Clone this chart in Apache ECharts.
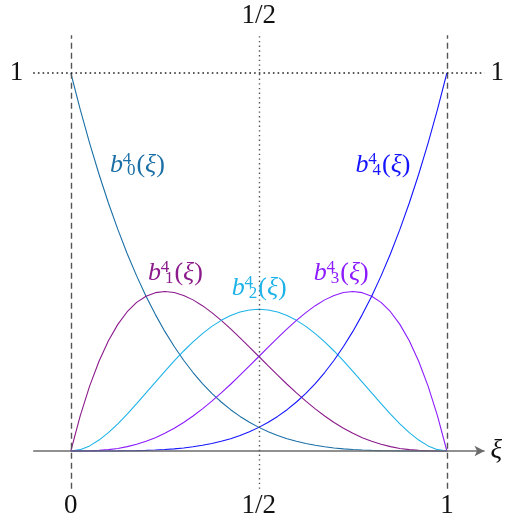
<!DOCTYPE html>
<html>
<head>
<meta charset="utf-8">
<script src="https://cdn.jsdelivr.net/npm/echarts@6/dist/echarts.min.js"></script>
<style>
  html, body { margin: 0; padding: 0; background: #fff; }
  #main { width: 507px; height: 529px; }
</style>
</head>
<body>
<div id="main"></div>
<script>
// sample points of xi
var xi = [0, 0.025, 0.05, 0.075, 0.1, 0.125, 0.15, 0.175, 0.2, 0.225, 0.25, 0.275, 0.3, 0.325, 0.35, 0.375, 0.4, 0.425, 0.45, 0.475, 0.5,
  0.525, 0.55, 0.575, 0.6, 0.625, 0.65, 0.675, 0.7, 0.725, 0.75, 0.775, 0.8, 0.825, 0.85, 0.875, 0.9, 0.925, 0.95, 0.975, 1];
// values
var b0 = [1, 0.9037, 0.8145, 0.7321, 0.6561, 0.5862, 0.5220, 0.4633, 0.4096, 0.3608, 0.3164, 0.2763, 0.2401, 0.2076, 0.1785, 0.1526, 0.1296, 0.1093, 0.0915, 0.0760, 0.0625,
  0.0509, 0.0410, 0.0326, 0.0256, 0.0198, 0.0150, 0.0112, 0.0081, 0.0057, 0.0039, 0.0026, 0.0016, 0.0009, 0.0005, 0.0002, 0.0001, 0, 0, 0, 0];
var b1 = [0, 0.0927, 0.1715, 0.2374, 0.2916, 0.3350, 0.3685, 0.3931, 0.4096, 0.4189, 0.4219, 0.4192, 0.4116, 0.3998, 0.3845, 0.3662, 0.3456, 0.3232, 0.2995, 0.2749, 0.25,
  0.2251, 0.2005, 0.1766, 0.1536, 0.1318, 0.1115, 0.0927, 0.0756, 0.0603, 0.0469, 0.0353, 0.0256, 0.0177, 0.0115, 0.0068, 0.0036, 0.0016, 0.0005, 0.0001, 0];
var b2 = [0, 0.0036, 0.0135, 0.0289, 0.0486, 0.0718, 0.0975, 0.1251, 0.1536, 0.1824, 0.2109, 0.2385, 0.2646, 0.2888, 0.3105, 0.3296, 0.3456, 0.3583, 0.3675, 0.3731, 0.375,
  0.3731, 0.3675, 0.3583, 0.3456, 0.3296, 0.3105, 0.2888, 0.2646, 0.2385, 0.2109, 0.1824, 0.1536, 0.1251, 0.0975, 0.0718, 0.0486, 0.0289, 0.0135, 0.0036, 0];
var b3 = [0, 0.0001, 0.0005, 0.0016, 0.0036, 0.0068, 0.0115, 0.0177, 0.0256, 0.0353, 0.0469, 0.0603, 0.0756, 0.0927, 0.1115, 0.1318, 0.1536, 0.1766, 0.2005, 0.2251, 0.25,
  0.2749, 0.2995, 0.3232, 0.3456, 0.3662, 0.3845, 0.3998, 0.4116, 0.4192, 0.4219, 0.4189, 0.4096, 0.3931, 0.3685, 0.3350, 0.2916, 0.2374, 0.1715, 0.0927, 0];
var b4 = [0, 0, 0, 0, 0.0001, 0.0002, 0.0005, 0.0009, 0.0016, 0.0026, 0.0039, 0.0057, 0.0081, 0.0112, 0.0150, 0.0198, 0.0256, 0.0326, 0.0410, 0.0509, 0.0625,
  0.0760, 0.0915, 0.1093, 0.1296, 0.1526, 0.1785, 0.2076, 0.2401, 0.2763, 0.3164, 0.3608, 0.4096, 0.4633, 0.5220, 0.5862, 0.6561, 0.7321, 0.8145, 0.9037, 1];
var names = ['0', '1', '2', '3', '4'];
var colors = ['#1a6fa6', '#8b1a8b', '#1eb3e8', '#8c1cff', '#1414ff'];
var tickLabels = { 0: '0', 0.5: '1/2', 1: '1' };

var serif = '"Liberation Serif", "DejaVu Serif", serif';
var chart = echarts.init(document.getElementById('main'));

function pairs(ys) {
  return xi.map(function (x, i) { return [x, ys[i]]; });
}
function fmt(v) {
  return tickLabels[v] || '';
}

// where the b_i^4 labels sit (data coords)
var labelAt = [[0.177, 0.757], [0.278, 0.471], [0.501, 0.431], [0.719, 0.471], [0.830, 0.757]];

function curve(ys, i) {
  var c = colors[i];
  return {
    type: 'line',
    data: pairs(ys),
    showSymbol: false,
    lineStyle: { color: c, width: 1.1 },
    z: 3,
    markPoint: {
      symbol: 'circle',
      symbolSize: 0,
      data: [{ coord: labelAt[i] }],
      label: {
        show: true,
        position: 'inside',
        formatter: '{b|b}{sup|4}{sub|' + names[i] + '}{p|(}{x|ξ}{p|)}',
        rich: {
          b: { fontFamily: serif, fontStyle: 'italic', fontSize: 26, color: c, lineHeight: 28, verticalAlign: 'middle', padding: [0, 4, 0, 0] },
          sup: { fontFamily: serif, fontSize: 17, color: c, lineHeight: 15, verticalAlign: 'top', width: 0, align: 'left' },
          sub: { fontFamily: serif, fontSize: 17, color: c, lineHeight: 15, verticalAlign: 'bottom', padding: [0, 1, 0, 0] },
          p: { fontFamily: serif, fontSize: 26, color: c, lineHeight: 28, verticalAlign: 'middle' },
          x: { fontFamily: serif, fontStyle: 'italic', fontSize: 26, color: c, lineHeight: 28, verticalAlign: 'middle' }
        }
      }
    }
  };
}

var series = [b0, b1, b2, b3, b4].map(curve);

// dashed and dotted guide lines
series.unshift({
  type: 'line',
  data: [],
  z: 2,
  markLine: {
    silent: true,
    animation: false,
    symbol: 'none',
    label: { show: false },
    data: [
      { xAxis: 0, lineStyle: { type: [6, 4], color: '#555', width: 1.4 } },
      { xAxis: 1, lineStyle: { type: [6, 4], color: '#555', width: 1.4 } },
      { xAxis: 0.5, lineStyle: { type: [1.4, 3.3], color: '#555', width: 1.4 } },
      { yAxis: 1, lineStyle: { type: [1.6, 3.1], color: '#222', width: 1.6 } }
    ]
  }
});

// the xi axis with its arrow
series.unshift({
  type: 'line',
  data: [],
  z: 2,
  markLine: {
    silent: true,
    animation: false,
    symbol: ['none', 'arrow'],
    symbolSize: [8, 10],
    lineStyle: { type: 'solid', color: '#6b6b6b', width: 1.6 },
    label: { show: true, position: 'end', formatter: 'ξ', distance: 6, fontFamily: serif, fontStyle: 'italic', fontSize: 27, color: '#111' },
    data: [{ yAxis: 0 }]
  }
});

var axisBase = {
  type: 'value',
  min: -0.1,
  max: 1.1,
  axisLine: { show: false },
  axisTick: { show: false },
  splitLine: { show: false }
};
function axis(extra, values, margin) {
  return Object.assign({}, axisBase, extra, {
    axisLabel: { customValues: values, formatter: fmt, margin: margin, fontFamily: serif, fontSize: 27, color: '#111' }
  });
}

var option = {
  animation: false,
  grid: { left: 33.2, top: 35.2, width: 453.6, height: 453.6 },
  xAxis: [
    axis({ position: 'bottom' }, [0, 0.5, 1], 4),
    axis({ position: 'top' }, [0.5], 6)
  ],
  yAxis: [
    axis({ position: 'left' }, [1], 10),
    axis({ position: 'right' }, [1], 6)
  ],
  series: series
};
chart.setOption(option);
</script>
</body>
</html>
